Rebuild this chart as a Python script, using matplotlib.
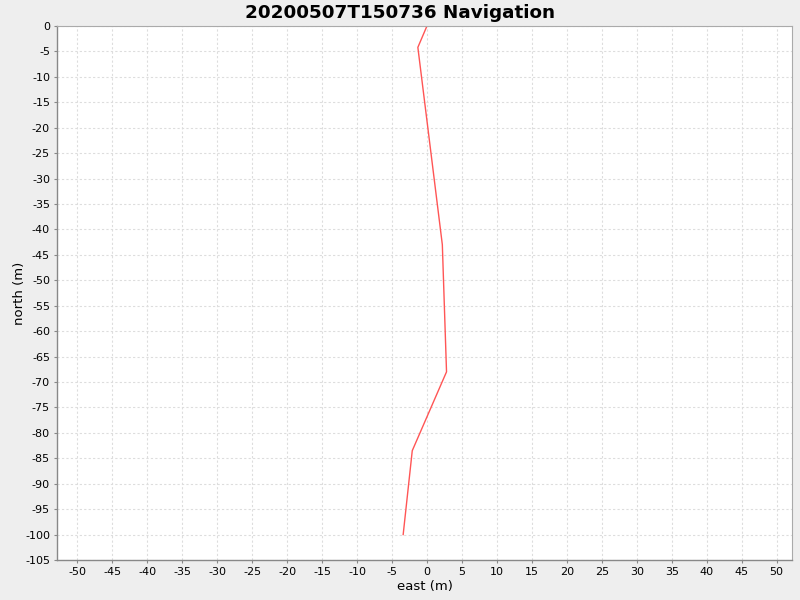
import matplotlib
matplotlib.use("Agg")
import matplotlib.pyplot as plt
import numpy as np

plt.rcParams["axes.unicode_minus"] = False

east = [0.0, -1.3, 2.2, 2.8, -2.1, -3.4]
north = [0.0, -4.2, -43.0, -68.0, -83.5, -100.0]
title = "20200507T150736 Navigation"
x_ticks = list(range(-50, 51, 5))
y_ticks = list(range(-105, 1, 5))

fig = plt.figure(figsize=(8, 6), dpi=100, facecolor="#EEEEEE")
ax = fig.add_axes([57/800, 1-560/600, (792-57)/800, (560-26)/600])
ax.set_facecolor("white")
ax.plot(east, north, color="#FF5555", linewidth=1.0)
ax.set_xlim(-52.9, 52.2)
ax.set_ylim(-105, 0)
ax.set_xticks(x_ticks)
ax.set_yticks(y_ticks)
ax.tick_params(labelsize=8, length=2, color="#888888", pad=3)
ax.grid(True, color="#DDDDDD", linestyle=(0, (2, 2)), linewidth=0.8)
ax.set_axisbelow(True)
for s in ["top", "right"]:
    ax.spines[s].set_color("#AAAAAA")
    ax.spines[s].set_linewidth(0.8)
for s in ["left", "bottom"]:
    ax.spines[s].set_color("#888888")
    ax.spines[s].set_linewidth(1.0)
ax.set_xlabel("east (m)", fontsize=9.5, labelpad=2)
ax.set_ylabel("north (m)", fontsize=9.5, labelpad=-1)
fig.suptitle(title, fontsize=13.2, fontweight="bold", y=0.993, va="top")
fig.savefig("out.png", dpi=100, facecolor=fig.get_facecolor())
